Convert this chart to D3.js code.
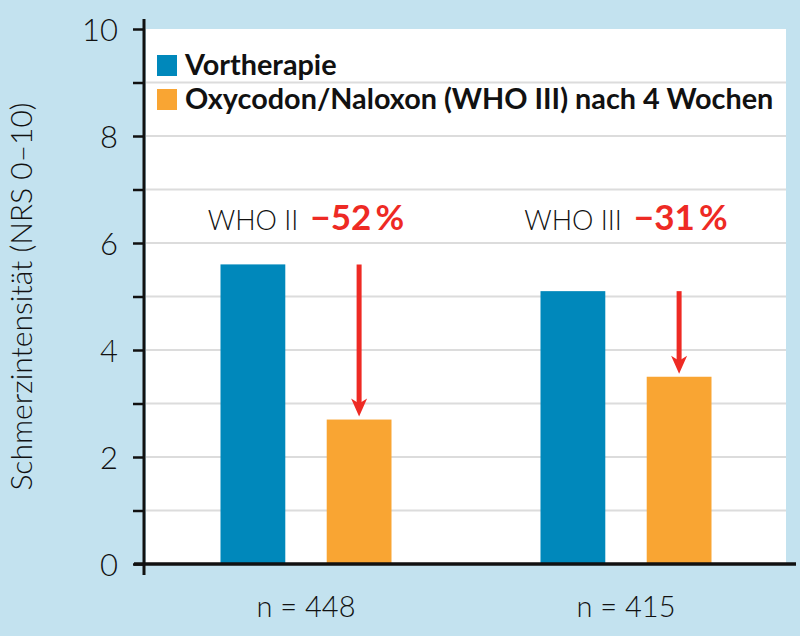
<!DOCTYPE html>
<html>
<head>
<meta charset="utf-8">
<script src="https://cdn.jsdelivr.net/npm/d3@7"></script>
<style>
  html, body { margin: 0; padding: 0; background: #c3e2ef; }
  svg { display: block; }
</style>
</head>
<body>
<svg id="chart" width="800" height="636"></svg>
<script>

// data
var groups = ["WHO II", "WHO III"];
var groupN = ["n = 448", "n = 415"];
var series = ["Vortherapie", "Oxycodon/Naloxon (WHO III) nach 4 Wochen"];
var vortherapie = [5.6, 5.1];
var nachVierWochen = [2.7, 3.5];
var reduction = ["\u221252\u2009%", "\u221231\u2009%"];
var yTicks = [0, 1, 2, 3, 4, 5, 6, 7, 8, 9, 10];

var colors = ["#0088bb", "#f9a533"];
var red = "#ee2a24";
var ink = "#111";
var lightFont = "Lato, 'Open Sans', sans-serif";

var svg = d3.select("#chart");
var width = 800, height = 636;
var margin = {top: 29, right: 14, bottom: 72, left: 146};
var innerW = width - margin.left - margin.right;
var innerH = height - margin.top - margin.bottom;

var x = d3.scaleBand()
    .domain(groups)
    .range([margin.left, margin.left + innerW]);

var xSub = d3.scaleBand()
    .domain([0, 1])
    .range([0, 171])
    .paddingInner(0.39);

var y = d3.scaleLinear()
    .domain([0, 10])
    .range([margin.top + innerH, margin.top]);

// white plot area
svg.append("rect")
    .attr("x", margin.left)
    .attr("y", y(10))
    .attr("width", innerW)
    .attr("height", y(0) - y(10))
    .attr("fill", "white");

// grid lines
svg.append("g")
    .selectAll("line")
    .data(yTicks.filter(d => d > 0 && d < 10))
    .join("line")
    .attr("x1", margin.left)
    .attr("x2", margin.left + innerW)
    .attr("y1", d => y(d))
    .attr("y2", d => y(d))
    .attr("stroke", "#dcdcdc")
    .attr("stroke-width", 2);

// bars
var barData = [];
groups.forEach(function(g, i){
  barData.push({group: g, s: 0, v: vortherapie[i]});
  barData.push({group: g, s: 1, v: nachVierWochen[i]});
});

var groupOffset = (x.bandwidth() - 171) / 2;

svg.append("g")
    .selectAll("rect")
    .data(barData)
    .join("rect")
    .attr("x", d => x(d.group) + groupOffset + xSub(d.s))
    .attr("y", d => y(d.v))
    .attr("width", xSub.bandwidth())
    .attr("height", d => y(0) - y(d.v))
    .attr("fill", d => colors[d.s]);

// arrows: from level before to level after, above the orange bar
var arrows = svg.append("g");
groups.forEach(function(g, i){
  var cx = x(g) + groupOffset + xSub(1) + xSub.bandwidth() / 2;
  var y0 = y(vortherapie[i]);
  var tip = y(nachVierWochen[i]) - 3;
  arrows.append("line")
      .attr("x1", cx).attr("x2", cx)
      .attr("y1", y0).attr("y2", tip - 12)
      .attr("stroke", red)
      .attr("stroke-width", 5);
  arrows.append("path")
      .attr("d", `M${cx - 8},${tip - 18} L${cx},${tip - 13} L${cx + 8},${tip - 18} L${cx},${tip} Z`)
      .attr("fill", red);
});

// annotations "WHO II -52 %"
var ann = svg.append("g")
    .selectAll("text")
    .data(groups)
    .join("text")
    .attr("x", d => x(d) + x.bandwidth() / 2)
    .attr("y", y(6.24))
    .attr("text-anchor", "middle");
ann.append("tspan")
    .text(d => d)
    .attr("font-family", lightFont)
    .attr("font-weight", 300)
    .attr("font-size", 27)
    .attr("fill", ink);
ann.append("tspan")
    .text((d, i) => reduction[i])
    .attr("dx", 12)
    .attr("font-family", lightFont)
    .attr("font-weight", 700)
    .attr("font-size", 35)
    .attr("fill", red);

// y axis
var yAxis = svg.append("g")
    .attr("transform", `translate(${margin.left - 2},0)`)
    .call(d3.axisLeft(y)
      .tickValues(yTicks)
      .tickSize(11)
      .tickPadding(15)
      .tickFormat(d => d % 2 == 0 ? d : ""));
yAxis.select(".domain").remove();
yAxis.selectAll(".tick line").attr("stroke", ink).attr("stroke-width", 2.5);
yAxis.selectAll(".tick text")
    .attr("font-family", lightFont)
    .attr("font-weight", 300)
    .attr("font-size", 31)
    .attr("fill", ink)
    .attr("dy", "0.36em");

// axis lines
svg.append("line")
    .attr("x1", margin.left - 2).attr("x2", margin.left - 2)
    .attr("y1", y(10) - 10).attr("y2", y(0) + 11)
    .attr("stroke", ink).attr("stroke-width", 3);
svg.append("line")
    .attr("x1", margin.left - 12).attr("x2", margin.left + innerW + 10)
    .attr("y1", y(0)).attr("y2", y(0))
    .attr("stroke", ink).attr("stroke-width", 3.5);

// n labels under the groups
svg.append("g")
    .selectAll("text")
    .data(groups)
    .join("text")
    .attr("x", d => x(d) + x.bandwidth() / 2)
    .attr("y", y(0) + 53)
    .attr("text-anchor", "middle")
    .attr("font-family", lightFont)
    .attr("font-weight", 300)
    .attr("font-size", 29)
    .attr("fill", ink)
    .text((d, i) => groupN[i]);

// y axis title
svg.append("text")
    .attr("transform", `translate(32,${(y(0) + y(10)) / 2}) rotate(-90)`)
    .attr("text-anchor", "middle")
    .attr("font-family", lightFont)
    .attr("font-weight", 300)
    .attr("font-size", 30)
    .attr("fill", ink)
    .text("Schmerzintensit\u00e4t (NRS 0\u201310)");

// legend
var legend = svg.append("g")
    .selectAll("g")
    .data(series)
    .join("g")
    .attr("transform", (d, i) => `translate(157,${55 + i * 34})`);
legend.append("rect")
    .attr("width", 20)
    .attr("height", 21)
    .attr("fill", (d, i) => colors[i]);
legend.append("text")
    .attr("x", 28)
    .attr("y", 20)
    .attr("font-family", lightFont)
    .attr("font-weight", 700)
    .attr("font-size", 28.8)
    .attr("fill", ink)
    .text(d => d);

</script>
</body>
</html>
